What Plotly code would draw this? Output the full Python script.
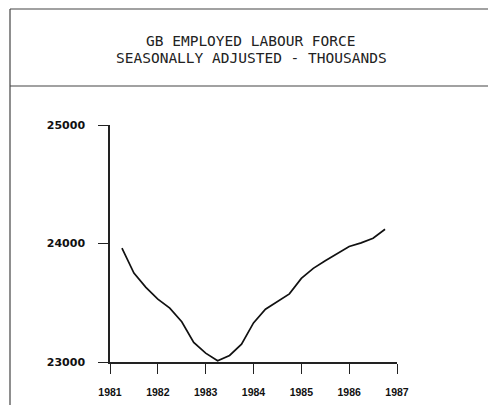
import plotly.graph_objects as go

# Quarterly observations (decimal year) and GB employed labour force (thousands)
years = [1981.25, 1981.50, 1981.75, 1982.00, 1982.25, 1982.50, 1982.75, 1983.00,
         1983.25, 1983.50, 1983.75, 1984.00, 1984.25, 1984.50, 1984.75, 1985.00,
         1985.25, 1985.50, 1985.75, 1986.00, 1986.25, 1986.50, 1986.75]
labour_force = [23960, 23750, 23630, 23530, 23455, 23340, 23165, 23075,
                23010, 23055, 23150, 23330, 23445, 23510, 23575, 23705,
                23790, 23855, 23915, 23975, 24005, 24045, 24120]

x_ticks = [1981, 1982, 1983, 1984, 1985, 1986, 1987]
x_tick_labels = ["1981", "1982", "1983", "1984", "1985", "1986", "1987"]
y_ticks = [23000, 24000, 25000]
y_tick_labels = ["23000", "24000", "25000"]
title_lines = ["GB EMPLOYED LABOUR FORCE", "SEASONALLY ADJUSTED - THOUSANDS"]

# The page body adds an 8px margin, so the figure is offset by 8px;
# layout is computed in the reference's window pixels and shifted.
OFF = 8
W, H = 496 - OFF, 405 - OFF
PX0, PX1, PY0, PY1 = 110 - OFF, 397 - OFF, 125 - OFF, 362 - OFF
L, R, T, B = PX0, W - PX1, PY0, H - PY1
pw, ph = PX1 - PX0, PY1 - PY0


def px_x(p):
    return (p - OFF - L) / pw


def px_y(p):
    return (PY1 - (p - OFF)) / ph


fig = go.Figure()
fig.add_trace(go.Scatter(x=years, y=labour_force, mode="lines",
                         line=dict(color="#111111", width=1.7),
                         hoverinfo="x+y", showlegend=False))

axis_common = dict(showgrid=False, zeroline=False, showline=True,
                   linecolor="#222222", linewidth=1.5, ticks="outside",
                   ticklen=10, tickwidth=1.3, tickcolor="#222222")

fig.update_xaxes(range=[1981, 1987], tickvals=x_ticks, ticktext=x_tick_labels,
                 tickfont=dict(family="Liberation Sans", size=10.5, color="#111111", weight="bold"),
                 ticklabelstandoff=10, **axis_common)
fig.update_yaxes(range=[23000, 25000], tickvals=y_ticks, ticktext=y_tick_labels,
                 tickfont=dict(family="DejaVu Sans", size=11, color="#111111", weight="bold"),
                 ticklabelstandoff=11, **axis_common)

frame = dict(color="#444444", width=1.2)
# Outer frame: top line, title-box bottom line, left edge
fig.add_shape(type="line", xref="paper", yref="paper",
              x0=px_x(10), x1=px_x(496), y0=px_y(OFF + 1), y1=px_y(OFF + 1), line=frame)
fig.add_shape(type="line", xref="paper", yref="paper",
              x0=px_x(10), x1=px_x(496), y0=px_y(86), y1=px_y(86), line=frame)
fig.add_shape(type="line", xref="paper", yref="paper",
              x0=px_x(10), x1=px_x(10), y0=px_y(OFF + 1), y1=px_y(405), line=frame)

for txt, yp in zip(title_lines, [41, 58]):
    fig.add_annotation(text=txt, xref="paper", yref="paper",
                       x=px_x(251), y=px_y(yp), showarrow=False,
                       xanchor="center", yanchor="middle",
                       font=dict(family="DejaVu Sans Mono", size=14.5, color="#222222"))

fig.update_layout(width=W, height=H,
                  margin=dict(l=L, r=R, t=T, b=B, autoexpand=False),
                  paper_bgcolor="white", plot_bgcolor="white")

fig.write_html("out.html")
